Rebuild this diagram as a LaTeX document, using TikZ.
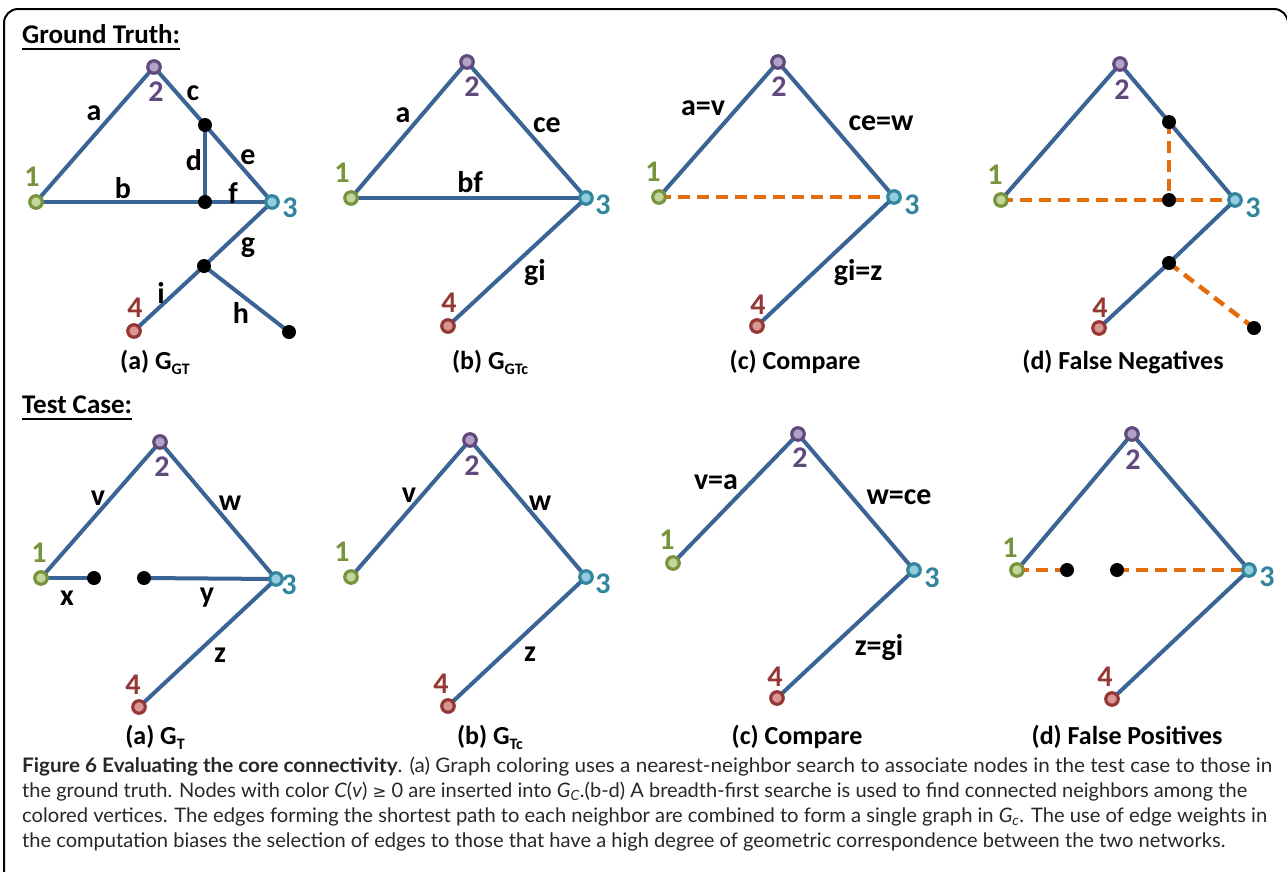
\documentclass[tikz,border=0pt]{standalone}
\usepackage{fontspec}
\usepackage{graphicx}
\setmainfont{Carlito}
\newfontfamily\capfont{Lato}
\newfontfamily\symfont{DejaVu Sans}
\usetikzlibrary{backgrounds}
\definecolor{eblue}{HTML}{3A6496}
\definecolor{eorange}{HTML}{E46C0A}
\definecolor{cA}{HTML}{77933C}\definecolor{fA}{HTML}{C3D69B}
\definecolor{cB}{HTML}{604A7B}\definecolor{fB}{HTML}{B3A2C7}
\definecolor{cC}{HTML}{31859C}\definecolor{fC}{HTML}{93CDDD}
\definecolor{cD}{HTML}{953735}\definecolor{fD}{HTML}{D99694}
\definecolor{captxt}{HTML}{2A2627}
\tikzset{
  vtx/.style={circle, line width=3.2pt, inner sep=0pt, minimum size=12.5pt},
  vone/.style={vtx, draw=cA, fill=fA},
  vtwo/.style={vtx, draw=cB, fill=fB},
  vthree/.style={vtx, draw=cC, fill=fC},
  vfour/.style={vtx, draw=cD, fill=fD},
  jdot/.style={circle, fill=black, inner sep=0pt, minimum size=14pt},
  blueedge/.style={draw=eblue, line width=4pt},
  fnedge/.style={draw=eorange, line width=4.5pt, dash pattern=on 12pt off 7pt},
  elab/.style={inner sep=0pt, font=\fontsize{30}{30}\selectfont\bfseries},
  nlab/.style={inner sep=0pt, font=\fontsize{30}{30}\selectfont\bfseries},
  none/.style={nlab, text=cA}, ntwo/.style={nlab, text=cB},
  nthree/.style={nlab, text=cC}, nfour/.style={nlab, text=cD},
  ptitle/.style={inner sep=0pt, anchor=base, font=\fontsize{26}{26}\selectfont\bfseries},
  stitle/.style={inner sep=0pt, anchor=base west, font=\fontsize{27}{27}\selectfont\bfseries},
  capline/.style={inner sep=0pt, anchor=base west, text=captxt, font=\capfont\fontsize{20}{20}\selectfont},
  uline/.style={line width=2pt},
  frame/.style={line width=2pt, rounded corners=14pt}
}
\newcommand{\sbs}[1]{\raisebox{-5pt}{\fontsize{16}{16}\selectfont #1}}
\newcommand{\capw}[2]{\resizebox{#1}{\height}{#2}}
\begin{document}
\begin{tikzpicture}[x=1pt,y=-1pt]
\useasboundingbox (0,0) rectangle (1287,871);
\coordinate (fbl) at (4,880);
\coordinate (ftl) at (4,9);
\coordinate (ftr) at (1288,9);
\coordinate (fbr) at (1288,880);
\draw[frame] (fbl) -- (ftl) -- (ftr) -- (fbr);

% section titles
\node[stitle] (gt) at (22,43) {Ground Truth:};
\draw[uline] ([yshift=-6pt]gt.base west) -- ([yshift=-6pt]gt.base east);
\node[stitle] (tc) at (22,413) {Test Case:};
\draw[uline] ([yshift=-6pt]tc.base west) -- ([yshift=-6pt]tc.base east);

% ---------- top (a) ----------
\node[vone] (A1) at (36,202) {};
\node[vtwo] (A2) at (154,67) {};
\node[vthree] (A3) at (272,202) {};
\node[vfour] (A4) at (134,331) {};
\node[jdot] (Ac) at (205,125) {};
\node[jdot] (Ab) at (205,202) {};
\node[jdot] (Ag) at (204,266) {};
\node[jdot] (Ah) at (289,332) {};
\begin{pgfonlayer}{background}
\draw[blueedge] (A1.center) -- (A2.center);
\draw[blueedge] (A2.center) -- (Ac.center) -- (A3.center);
\draw[blueedge] (Ac.center) -- (Ab.center);
\draw[blueedge] (A1.center) -- (Ab.center) -- (A3.center);
\draw[blueedge] (A3.center) -- (Ag.center) -- (A4.center);
\draw[blueedge] (Ag.center) -- (Ah.center);
\end{pgfonlayer}
\node[elab] (Ala) at (94,113) {a};
\node[elab] (Alc) at (193,93) {c};
\node[elab] (Ald) at (194,160) {d};
\node[elab] (Ale) at (248,157) {e};
\node[elab] (Alb) at (123,188) {b};
\node[elab] (Alf) at (233,193) {f};
\node[elab] (Alg) at (248,248) {g};
\node[elab] (Ali) at (161,293) {i};
\node[elab] (Alh) at (241,313) {h};
\node[none] (An1) at (32,177) {1};
\node[ntwo] (An2) at (156,92) {2};
\node[nthree] (An3) at (290,208) {3};
\node[nfour] (An4) at (135,308) {4};
\node[ptitle] (At) at (155,369) {(a) G\sbs{GT}};

% ---------- top (b) ----------
\node[vone] (B1) at (351,198) {};
\node[vtwo] (B2) at (467,62) {};
\node[vthree] (B3) at (586,198) {};
\node[vfour] (B4) at (448,326) {};
\begin{pgfonlayer}{background}
\draw[blueedge] (B1.center) -- (B2.center);
\draw[blueedge] (B2.center) -- (B3.center);
\draw[blueedge] (B1.center) -- (B3.center);
\draw[blueedge] (B3.center) -- (B4.center);
\end{pgfonlayer}
\node[elab] (Bla) at (403,115) {a};
\node[elab] (Blce) at (547,125) {ce};
\node[elab] (Blbf) at (470,182) {bf};
\node[elab] (Blgi) at (535,273) {gi};
\node[none] (Bn1) at (342,173) {1};
\node[ntwo] (Bn2) at (472,87) {2};
\node[nthree] (Bn3) at (603,205) {3};
\node[nfour] (Bn4) at (449,303) {4};
\node[ptitle] (Bt) at (490,369) {(b) G\sbs{GTc}};

% ---------- top (c) ----------
\node[vone] (C1) at (659,197) {};
\node[vtwo] (C2) at (778,62) {};
\node[vthree] (C3) at (894,197) {};
\node[vfour] (C4) at (757,326) {};
\begin{pgfonlayer}{background}
\draw[blueedge] (C1.center) -- (C2.center);
\draw[blueedge] (C2.center) -- (C3.center);
\draw[blueedge] (C3.center) -- (C4.center);
\draw[fnedge] (C1.center) -- (C3.center);
\end{pgfonlayer}
\node[elab] (Clav) at (703,108) {a=v};
\node[elab] (Clcew) at (881,123) {ce=w};
\node[elab] (Clgiz) at (858,273) {gi=z};
\node[none] (Cn1) at (653,172) {1};
\node[ntwo] (Cn2) at (779,87) {2};
\node[nthree] (Cn3) at (912,205) {3};
\node[nfour] (Cn4) at (758,305) {4};
\node[ptitle] (Ct) at (795,369) {(c) Compare};

% ---------- top (d) ----------
\node[vone] (D1) at (1001,200) {};
\node[vtwo] (D2) at (1120,64) {};
\node[vthree] (D3) at (1235,200) {};
\node[vfour] (D4) at (1099,328) {};
\node[jdot] (Du) at (1169,122) {};
\node[jdot] (Dm) at (1169,200) {};
\node[jdot] (Dl) at (1169,263) {};
\node[jdot] (De) at (1254,328) {};
\begin{pgfonlayer}{background}
\draw[blueedge] (D1.center) -- (D2.center);
\draw[blueedge] (D2.center) -- (Du.center) -- (D3.center);
\draw[blueedge] (D3.center) -- (Dl.center) -- (D4.center);
\draw[fnedge] (D1.center) -- (Dm.center) -- (D3.center);
\draw[fnedge] (Du.center) -- (Dm.center);
\draw[fnedge] (Dl.center) -- (De.center);
\end{pgfonlayer}
\node[none] (Dn1) at (995,175) {1};
\node[ntwo] (Dn2) at (1122,90) {2};
\node[nthree] (Dn3) at (1253,208) {3};
\node[nfour] (Dn4) at (1100,308) {4};
\node[ptitle] (Dt) at (1123,369) {(d) False Negatives};

% ---------- bottom (a) ----------
\node[vone] (E1) at (41,578) {};
\node[vtwo] (E2) at (160,442) {};
\node[vthree] (E3) at (276,579) {};
\node[vfour] (E4) at (139,707) {};
\node[jdot] (Ex) at (94,578) {};
\node[jdot] (Ey) at (144,578) {};
\begin{pgfonlayer}{background}
\draw[blueedge] (E1.center) -- (E2.center);
\draw[blueedge] (E2.center) -- (E3.center);
\draw[blueedge] (E1.center) -- (Ex.center);
\draw[blueedge] (Ey.center) -- (E3.center);
\draw[blueedge] (E3.center) -- (E4.center);
\end{pgfonlayer}
\node[elab] (Elv) at (98,498) {v};
\node[elab] (Elw) at (230,503) {w};
\node[elab] (Elx) at (67,598) {x};
\node[elab] (Ely) at (207,598) {y};
\node[elab] (Elz) at (220,655) {z};
\node[none] (En1) at (39,553) {1};
\node[ntwo] (En2) at (162,467) {2};
\node[nthree] (En3) at (289,585) {3};
\node[nfour] (En4) at (133,685) {4};
\node[ptitle] (Et) at (155,744) {(a) G\sbs{T}};

% ---------- bottom (b) ----------
\node[vone] (F1) at (351,577) {};
\node[vtwo] (F2) at (470,440) {};
\node[vthree] (F3) at (586,577) {};
\node[vfour] (F4) at (448,706) {};
\begin{pgfonlayer}{background}
\draw[blueedge] (F1.center) -- (F2.center);
\draw[blueedge] (F2.center) -- (F3.center);
\draw[blueedge] (F3.center) -- (F4.center);
\end{pgfonlayer}
\node[elab] (Flv) at (409,495) {v};
\node[elab] (Flw) at (540,503) {w};
\node[elab] (Flz) at (530,654) {z};
\node[none] (Fn1) at (342,552) {1};
\node[ntwo] (Fn2) at (472,466) {2};
\node[nthree] (Fn3) at (603,584) {3};
\node[nfour] (Fn4) at (441,684) {4};
\node[ptitle] (Ft) at (490,744) {(b) G\sbs{Tc}};

% ---------- bottom (c) ----------
\node[vone] (G1) at (673,563) {};
\node[vtwo] (G2) at (798,434) {};
\node[vthree] (G3) at (914,570) {};
\node[vfour] (G4) at (777,698) {};
\begin{pgfonlayer}{background}
\draw[blueedge] (G1.center) -- (G2.center);
\draw[blueedge] (G2.center) -- (G3.center);
\draw[blueedge] (G3.center) -- (G4.center);
\end{pgfonlayer}
\node[elab] (Glva) at (716,482) {v=a};
\node[elab] (Glwce) at (899,497) {w=ce};
\node[elab] (Glzgi) at (879,648) {z=gi};
\node[none] (Gn1) at (667,540) {1};
\node[ntwo] (Gn2) at (800,458) {2};
\node[nthree] (Gn3) at (932,578) {3};
\node[nfour] (Gn4) at (775,677) {4};
\node[ptitle] (Gt) at (797,744) {(c) Compare};

% ---------- bottom (d) ----------
\node[vone] (H1) at (1017,570) {};
\node[vtwo] (H2) at (1132,434) {};
\node[vthree] (H3) at (1249,570) {};
\node[vfour] (H4) at (1112,699) {};
\node[jdot] (Ha) at (1067,570) {};
\node[jdot] (Hb) at (1117,570) {};
\begin{pgfonlayer}{background}
\draw[blueedge] (H1.center) -- (H2.center);
\draw[blueedge] (H2.center) -- (H3.center);
\draw[blueedge] (H3.center) -- (H4.center);
\draw[fnedge] (H1.center) -- (Ha.center);
\draw[fnedge] (Hb.center) -- (H3.center);
\end{pgfonlayer}
\node[none] (Hn1) at (1010,548) {1};
\node[ntwo] (Hn2) at (1133,460) {2};
\node[nthree] (Hn3) at (1267,577) {3};
\node[nfour] (Hn4) at (1105,677) {4};
\node[ptitle] (Ht) at (1127,744) {(d) False Positives};

% ---------- caption ----------
\node[capline] (cap1) at (22,772) {\capw{1250pt}{\textbf{Figure 6 Evaluating the core connectivity}. (a) Graph coloring uses a nearest-neighbor search to associate nodes in the test case to those in}};
\node[capline] (cap2) at (22,797) {\capw{1225pt}{the ground truth. Nodes with color \textit{C}(\textit{v}) {\symfont\fontsize{16.5}{16.5}\selectfont ≥} 0 are inserted into \textit{G}\textsubscript{\textit{C}}.(b-d) A breadth-first searche is used to find connected neighbors among the}};
\node[capline] (cap3) at (22,822) {\capw{1245pt}{colored vertices. The edges forming the shortest path to each neighbor are combined to form a single graph in \textit{G}\textsubscript{\textit{c}}. The use of edge weights in}};
\node[capline] (cap4) at (22,847) {\capw{1203pt}{the computation biases the selection of edges to those that have a high degree of geometric correspondence between the two networks.}};
\end{tikzpicture}
\end{document}
